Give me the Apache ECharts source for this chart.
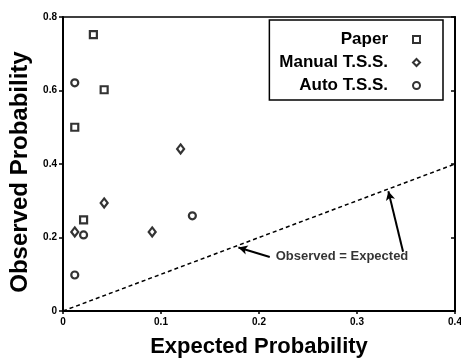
<!DOCTYPE html>
<html><head><meta charset="utf-8">
<script src="https://cdn.jsdelivr.net/npm/echarts@6/dist/echarts.min.js"></script>
<style>html,body{margin:0;padding:0;background:#fff}#c{width:461px;height:358px}</style>
</head><body><div id="c"></div>
<script>
const paperX = [0.031, 0.042, 0.012, 0.021];
const paperY = [0.752, 0.602, 0.500, 0.248];
const manualX = [0.012, 0.042, 0.091, 0.120];
const manualY = [0.215, 0.294, 0.215, 0.441];
const autoX = [0.012, 0.021, 0.012, 0.132];
const autoY = [0.621, 0.207, 0.098, 0.259];
const identityLine = [[0, 0], [0.4, 0.4]];
const seriesNames = ['Paper', 'Manual T.S.S.', 'Auto T.S.S.'];
const annotationText = 'Observed = Expected';
const xTicks = ['0', '0.1', '0.2', '0.3', '0.4'];
const yTicks = ['0', '0.2', '0.4', '0.6', '0.8'];

const zip = (a, b) => a.map((v, i) => [v, b[i]]);
const FONT = '"Liberation Sans", Arial, sans-serif';
const chart = echarts.init(document.getElementById('c'));
const mk = {color: '#fff', borderColor: '#000', borderWidth: 2.2};
chart.setOption({
  animation: false,
  backgroundColor: '#fff',
  grid: {left: 63, right: 6, top: 17, bottom: 47, show: true, borderColor: '#000', borderWidth: 1.5,
    containLabel: false, outerBoundsMode: 'none'},
  legend: {
    orient: 'vertical', right: 18, top: 20, align: 'right',
    data: seriesNames,
    borderColor: '#000', borderWidth: 1.5, padding: [11, 22, 6, 10], itemGap: 6,
    itemWidth: 7, itemHeight: 7,
    textStyle: {fontFamily: FONT, fontWeight: 'bold', fontSize: 17, color: '#000', align: 'right', padding: [0, 20, 0, 0]}
  },
  xAxis: {
    type: 'value', min: 0, max: 0.4, interval: 0.1,
    name: 'Expected Probability', nameLocation: 'middle', nameGap: 25,
    nameTextStyle: {fontFamily: FONT, fontWeight: 'bold', fontSize: 22, color: '#000'},
    axisLine: {lineStyle: {color: '#000', width: 2}},
    axisTick: {show: true, length: 3, lineStyle: {color: '#000', width: 1.5}},
    axisLabel: {fontFamily: FONT, fontWeight: 'bold', fontSize: 10, color: '#000', margin: 6,
      formatter: v => xTicks[Math.round(v * 10)]},
    splitLine: {show: false}
  },
  yAxis: [{
    type: 'value', min: 0, max: 0.8, interval: 0.2,
    name: 'Observed Probability', nameLocation: 'middle', nameGap: 26,
    nameTextStyle: {fontFamily: FONT, fontWeight: 'bold', fontSize: 24, color: '#000', padding: [0, 16, 0, 0]},
    axisLine: {lineStyle: {color: '#000', width: 2}},
    axisTick: {show: true, length: 4, lineStyle: {color: '#000', width: 1.5}},
    axisLabel: {fontFamily: FONT, fontWeight: 'bold', fontSize: 10, color: '#000', margin: 6,
      formatter: v => yTicks[Math.round(v * 5)]},
    splitLine: {show: false}
  }, {
    type: 'value', min: 0, max: 0.8, interval: 0.2, position: 'right',
    axisLine: {show: true, lineStyle: {color: '#000', width: 2}},
    axisTick: {show: true, inside: true, length: 4, lineStyle: {color: '#000', width: 1.5}},
    axisLabel: {show: false}, splitLine: {show: false}
  }],
  series: [
    {name: seriesNames[0], type: 'scatter', data: zip(paperX, paperY), symbol: 'rect', symbolSize: 7, itemStyle: mk},
    {name: seriesNames[1], type: 'scatter', data: zip(manualX, manualY), symbol: 'diamond', symbolSize: [7, 9], itemStyle: mk},
    {name: seriesNames[2], type: 'scatter', data: zip(autoX, autoY), symbol: 'circle', symbolSize: 7, itemStyle: mk},
    {
      type: 'line', data: identityLine, symbol: 'none', silent: true,
      lineStyle: {color: '#000', width: 1.5, type: [4, 3]},
      markLine: {
        silent: true, symbolSize: [7, 9],
        lineStyle: {color: '#000', width: 2, type: 'solid'},
        label: {show: false},
        data: [
          [{coord: [0.211, 0.147], symbol: 'none'}, {coord: [0.179, 0.173], symbol: 'arrow'}],
          [{coord: [0.347, 0.161], symbol: 'none'}, {coord: [0.332, 0.326], symbol: 'arrow'}]
        ]
      }
    },
    {
      type: 'scatter', data: [[0.2847, 0.1497]], symbolSize: 0, silent: true,
      label: {show: true, position: 'inside', formatter: annotationText,
        fontFamily: FONT, fontWeight: 'bold', fontSize: 13, color: '#000'}
    }
  ]
});
</script></body></html>
